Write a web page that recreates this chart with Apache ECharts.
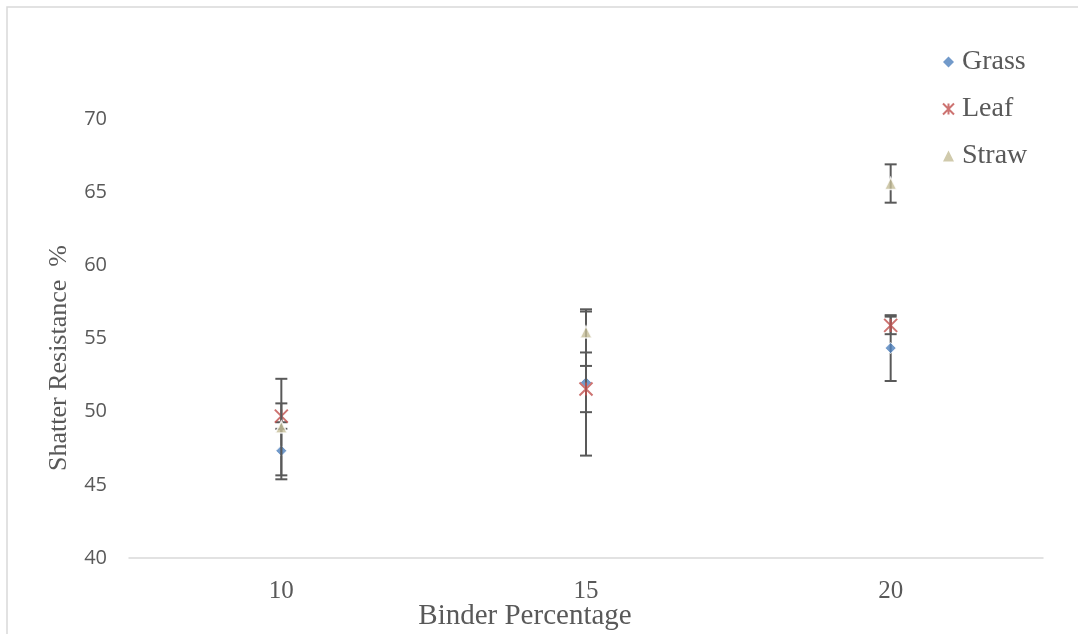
<!DOCTYPE html>
<html>
<head>
<meta charset="utf-8">
<style>
  html, body { margin: 0; padding: 0; background: #fff; }
  #chart { width: 1078px; height: 634px; }
</style>
<script src="https://cdn.jsdelivr.net/npm/echarts@6/dist/echarts.min.js"></script>
</head>
<body>
<div id="chart"></div>
<script>
// Binder percentage categories
const categories = ['10', '15', '20'];

// Mean shatter resistance (%) per binder percentage
const grassMean = [47.33, 52.0, 54.35];
const leafMean  = [49.7, 51.55, 55.9];
const strawMean = [48.95, 55.45, 65.6];

// Error bar half-widths (±)
const grassErr = [1.95, 5.0, 2.25];
const leafErr  = [0.87, 1.58, 0.6];
const strawErr = [3.3, 1.4, 1.31];

const yTicks = [40, 45, 50, 55, 60, 65, 70];

const COLORS = { grass: '#4F81BD', leaf: '#C0504D', straw: '#C4BD97' };
const TEXT = '#595959';
const SERIF = '"Liberation Serif", "Times New Roman", serif';

// Asterisk-style marker (X with vertical stroke)
const starPath = 'path://M0,0 L10,10 M10,0 L0,10 M5,0 L5,10';

function errorData(means, errs) {
  return means.map((m, i) => [i, m - errs[i], m + errs[i]]);
}

function errorSeries(name, means, errs, z) {
  return {
    type: 'custom',
    name: name + ' error',
    z: z,
    silent: true,
    legendHoverLink: false,
    encode: { x: 0, y: [1, 2] },
    data: errorData(means, errs),
    renderItem: function (params, api) {
      const lo = api.coord([api.value(0), api.value(1)]);
      const hi = api.coord([api.value(0), api.value(2)]);
      const half = 6;
      const style = { stroke: '#595959', lineWidth: 2 };
      return {
        type: 'group',
        children: [
          { type: 'line', shape: { x1: lo[0], y1: lo[1], x2: hi[0], y2: hi[1] }, style: style },
          { type: 'line', shape: { x1: lo[0] - half, y1: lo[1], x2: lo[0] + half, y2: lo[1] }, style: style },
          { type: 'line', shape: { x1: hi[0] - half, y1: hi[1], x2: hi[0] + half, y2: hi[1] }, style: style }
        ]
      };
    }
  };
}

const chart = echarts.init(document.getElementById('chart'), null, { renderer: 'canvas' });

chart.setOption({
  animation: false,
  backgroundColor: '#ffffff',
  grid: { left: 129, right: 35, top: 46, bottom: 76, containLabel: false },
  xAxis: {
    type: 'category',
    data: categories,
    boundaryGap: true,
    axisLine: { show: true, lineStyle: { color: '#D9D9D9', width: 1.5 } },
    axisTick: { show: false },
    splitLine: { show: false },
    axisLabel: { color: TEXT, fontFamily: SERIF, fontSize: 25, margin: 21 }
  },
  yAxis: {
    type: 'value',
    min: 40,
    max: 75,
    interval: 5,
    axisLine: { show: false },
    axisTick: { show: false },
    splitLine: { show: false },
    axisLabel: {
      color: TEXT,
      fontFamily: '"Open Sans", sans-serif',
      fontSize: 20,
      margin: 22,
      formatter: function (v) { return yTicks.indexOf(v) >= 0 ? String(v) : ''; }
    }
  },
  legend: {
    orient: 'vertical',
    left: 937,
    top: 42,
    itemWidth: 11,
    itemHeight: 11,
    itemGap: 17,
    textStyle: { color: TEXT, fontFamily: SERIF, fontSize: 28, lineHeight: 30, padding: [0, 0, 0, 3] },
    data: [
      { name: 'Grass', icon: 'diamond', itemStyle: { borderWidth: 0 } },
      { name: 'Leaf' },
      { name: 'Straw', icon: 'triangle', itemStyle: { borderWidth: 0 } }
    ]
  },
  graphic: [
    {
      type: 'rect',
      silent: true,
      shape: { x: 7, y: 7, width: 1100, height: 660 },
      style: { fill: 'none', stroke: '#D9D9D9', lineWidth: 1.5 }
    },
    {
      type: 'text',
      silent: true,
      x: 59, y: 358,
      rotation: Math.PI / 2,
      style: {
        text: 'Shatter Resistance  %',
        fill: TEXT,
        font: '26px ' + SERIF,
        textAlign: 'center',
        textVerticalAlign: 'middle'
      }
    },
    {
      type: 'text',
      silent: true,
      x: 525, y: 616,
      style: {
        text: 'Binder Percentage',
        fill: TEXT,
        font: '29px ' + SERIF,
        textAlign: 'center',
        textVerticalAlign: 'middle'
      }
    }
  ],
  series: [
    // each series: error bars first, its markers on top, later series above earlier ones
    errorSeries('Grass', grassMean, grassErr, 1),
    {
      type: 'scatter',
      name: 'Grass',
      z: 2,
      symbol: 'diamond',
      symbolSize: 11,
      itemStyle: { color: COLORS.grass, borderColor: '#ffffff', borderWidth: 1 },
      data: grassMean
    },
    errorSeries('Leaf', leafMean, leafErr, 3),
    {
      type: 'scatter',
      name: 'Leaf',
      z: 4,
      symbol: starPath,
      symbolSize: 13,
      itemStyle: { color: COLORS.leaf, borderColor: COLORS.leaf, borderWidth: 2 },
      data: leafMean
    },
    errorSeries('Straw', strawMean, strawErr, 5),
    {
      type: 'scatter',
      name: 'Straw',
      z: 6,
      symbol: 'triangle',
      symbolSize: 12,
      itemStyle: { color: COLORS.straw, borderColor: '#ffffff', borderWidth: 1.5 },
      data: strawMean
    }
  ]
});
</script>
</body>
</html>
